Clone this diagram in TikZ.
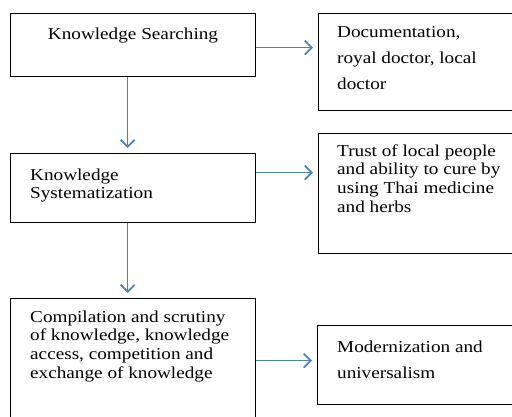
\documentclass[tikz,border=0pt]{standalone}
\usepackage{fontspec}
\setmainfont[FakeStretch=1.15]{Liberation Serif}
\usetikzlibrary{arrows.meta}
\definecolor{arrblue}{RGB}{79,129,189}
\newcommand\topstrut{\rule{0pt}{12pt}}
\begin{document}
\begin{tikzpicture}[x=1pt,y=-1pt,
  box/.style={draw=black, line width=1.1pt, inner sep=0pt, anchor=north west},
  txt/.style={anchor=north west, inner sep=0pt, align=left, font=\fontsize{16.7}{18.7}\selectfont},
  txtw/.style={anchor=north west, inner sep=0pt, align=left, font=\fontsize{16.7}{26}\selectfont},
  arr/.style={draw=arrblue, line width=1.8pt, -{Straight Barb[length=7pt,width=14pt]}, shorten >=5pt}]
\useasboundingbox (0,0) rectangle (512,416);
\clip (0,0) rectangle (512,416);
\fill[white] (0,0) rectangle (512,416);
% boxes
\node[box, minimum width=245pt, minimum height=63pt] (b1) at (10,13) {};
\node[box, minimum width=245pt, minimum height=69pt] (b2) at (10,153) {};
\node[box, minimum width=245pt, minimum height=132pt] (b3) at (10,298) {};
\node[box, minimum width=202pt, minimum height=97pt] (b4) at (318,13) {};
\node[box, minimum width=202pt, minimum height=120pt] (b5) at (318,133) {};
\node[box, minimum width=203pt, minimum height=79pt] (b6) at (317,325) {};
% texts
\node[txt, anchor=north] (t1) at (133,27) {\topstrut Knowledge Searching};
\node[txt] (t2) at (30,168) {\topstrut Knowledge\\Systematization};
\node[txt] (t3) at (30,310) {\topstrut Compilation and scrutiny\\of knowledge, knowledge\\access, competition and\\exchange of knowledge};
\node[txtw] (t4) at (337,25) {\topstrut Documentation,\\royal doctor, local\\doctor};
\node[txt] (t5) at (337,144) {\topstrut Trust of local people\\and ability to cure by\\using Thai medicine\\and herbs};
\node[txtw] (t6) at (337,340) {\topstrut Modernization and\\universalism};
% arrows
\draw[arr] ([xshift=-5.5pt]b1.south) -- ([xshift=-5.5pt]b2.north);
\draw[arr] ([xshift=-5.5pt]b2.south) -- ([xshift=-5.5pt]b3.north);
\coordinate (a1) at ([yshift=-2.5pt]b1.east);
\coordinate (a2) at ([yshift=15.5pt]b2.east);
\coordinate (a3) at ([yshift=4pt]b3.east);
\draw[arr] (a1) -- (a1 -| b4.west);
\draw[arr] (a2) -- (a2 -| b5.west);
\draw[arr] (a3) -- (a3 -| b6.west);
\end{tikzpicture}
\end{document}
